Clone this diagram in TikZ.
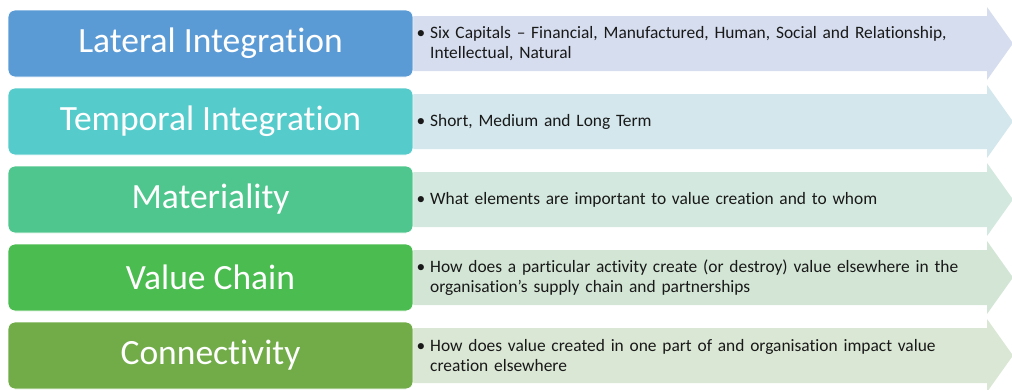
\documentclass[tikz,border=0pt]{standalone}
\usepackage{fontspec}
\setmainfont[Ligatures={NoCommon}]{Carlito}
\definecolor{b1}{RGB}{91,155,213}
\definecolor{b2}{RGB}{86,203,204}
\definecolor{b3}{RGB}{79,198,141}
\definecolor{b4}{RGB}{75,188,80}
\definecolor{b5}{RGB}{113,172,72}
\definecolor{a1}{RGB}{213,221,238}
\definecolor{a2}{RGB}{211,231,236}
\definecolor{a3}{RGB}{211,232,222}
\definecolor{a4}{RGB}{211,230,213}
\definecolor{a5}{RGB}{218,231,212}
\tikzset{
  catbox/.style={draw=white, line width=0.8pt, rounded corners=7pt, minimum width=405pt, minimum height=67pt,
    text=white, font=\fontsize{35.5}{40}\selectfont, inner sep=0pt},
  desc/.style={anchor=west, text width=570pt, align=left, font=\fontsize{17.4}{20.5}\selectfont, text=black!90, inner sep=0pt},
}
\newcommand{\bul}{\llap{\textbullet\hspace{5pt}}}
\begin{document}
\begin{tikzpicture}[x=1pt,y=-1pt]
\useasboundingbox (0,0) rectangle (1012,389);
\foreach \i/\bc/\ac/\lab/\txt in {
  0/b1/a1/{Lateral Integration}/{\bul Six Capitals -- Financial, Manufactured, Human, Social and Relationship,\\Intellectual, Natural},
  1/b2/a2/{Temporal Integration}/{\bul Short, Medium and Long Term},
  2/b3/a3/{Materiality}/{\bul What elements are important to value creation and to whom},
  3/b4/a4/{Value Chain}/{\bul How does a particular activity create (or destroy) value elsewhere in the\\organisation’s supply chain and partnerships},
  4/b5/a5/{Connectivity}/{\bul How does value created in one part of and organisation impact value\\creation elsewhere}}{
  \pgfmathsetmacro{\yc}{43.5+78*\i}
  \fill[\ac] (410,\yc-27.5) -- (987,\yc-27.5) -- (987,\yc-36.5) -- (1013,\yc) -- (987,\yc+36.5) -- (987,\yc+27.5) -- (410,\yc+27.5) -- cycle;
  \node[desc] (d\i) at (430,\yc) {\txt};
  \node[catbox, fill=\bc] (c\i) at (210.5,\yc) {\lab};
}
\end{tikzpicture}
\end{document}
